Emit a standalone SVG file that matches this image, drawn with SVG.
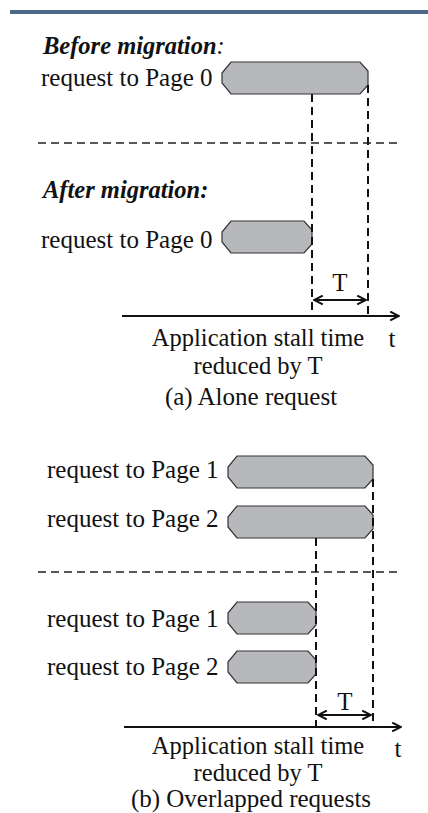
<svg xmlns="http://www.w3.org/2000/svg" width="428" height="813" viewBox="0 0 428 813">
<style>
text{font-family:"Liberation Serif","Times New Roman",serif;font-size:25px;fill:#111}
.h{font-weight:bold;font-style:italic;font-size:24.5px}
.s{font-size:24.5px}
.box{fill:#b7b8bc;stroke:#333;stroke-width:1.2}
.vd{stroke:#111;stroke-width:2;stroke-dasharray:8 5;fill:none}
.hd{stroke:#222;stroke-width:1.6;stroke-dasharray:8 5;fill:none}
.ax{stroke:#111;stroke-width:2;fill:none}
</style>
<defs>
<marker id="ah" viewBox="0 0 10 10" refX="9" refY="5" markerWidth="11" markerHeight="11" markerUnits="userSpaceOnUse" orient="auto-start-reverse">
<path d="M1,1 L9,5 L1,9" fill="none" stroke="#111" stroke-width="1.8"/>
</marker>
</defs>
<rect x="10" y="10" width="418" height="4" fill="#4d6987"/>

<g id="heading-before"><text class="h" x="43" y="54">Before migration<tspan font-weight="normal">:</tspan></text></g>
<g id="req-a-before">
<text x="41" y="86">request to Page 0</text>
<path class="box" d="M231,62 L360,62 L368,71 L368,85 L360,94 L231,94 L222,83 L222,73 Z"/>
</g>
<g id="heading-after"><text class="h" x="43" y="198">After migration:</text></g>
<g id="req-a-after">
<text x="41" y="248">request to Page 0</text>
<path class="box" d="M231,221 L304,221 L312,230 L312,244 L304,253 L231,253 L222,242 L222,232 Z"/>
</g>

<g id="req-b1">
<text x="47" y="478">request to Page 1</text>
<path class="box" d="M237,456 L365,456 L373,465 L373,479 L365,488 L237,488 L228,477 L228,467 Z"/>
</g>
<g id="req-b2">
<text x="47" y="527">request to Page 2</text>
<path class="box" d="M237,506 L365,506 L373,515 L373,529 L365,538 L237,538 L228,527 L228,517 Z"/>
</g>
<g id="req-b1-after">
<text x="47" y="627">request to Page 1</text>
<path class="box" d="M237,602 L308,602 L316,611 L316,625 L308,634 L237,634 L228,623 L228,613 Z"/>
</g>
<g id="req-b2-after">
<text x="47" y="675">request to Page 2</text>
<path class="box" d="M237,651 L308,651 L316,660 L316,674 L308,683 L237,683 L228,672 L228,662 Z"/>
</g>

<g id="connectors">
<line class="hd" x1="38" y1="143" x2="400" y2="143"/>
<line class="vd" x1="312" y1="94" x2="312" y2="316"/>
<line class="vd" x1="368" y1="85" x2="368" y2="316"/>
<line class="ax" x1="314" y1="300" x2="366" y2="300" marker-start="url(#ah)" marker-end="url(#ah)"/>
<line class="ax" x1="122" y1="316" x2="399" y2="316" marker-end="url(#ah)"/>

<line class="hd" x1="38" y1="572" x2="400" y2="572"/>
<line class="vd" x1="316" y1="538" x2="316" y2="727"/>
<line class="vd" x1="373" y1="479" x2="373" y2="727"/>
<line class="ax" x1="318" y1="715" x2="371" y2="715" marker-start="url(#ah)" marker-end="url(#ah)"/>
<line class="ax" x1="124" y1="727" x2="401" y2="727" marker-end="url(#ah)"/>
</g>

<g id="labels-a">
<text x="340" y="291" text-anchor="middle">T</text>
<text x="392" y="347" text-anchor="middle">t</text>
<text class="s" x="258" y="346" text-anchor="middle">Application stall time</text>
<text class="s" x="258" y="374" text-anchor="middle">reduced by T</text>
<text x="251" y="405" text-anchor="middle">(a) Alone request</text>
</g>
<g id="labels-b">
<text x="345" y="710" text-anchor="middle">T</text>
<text x="398" y="757" text-anchor="middle">t</text>
<text class="s" x="258" y="754" text-anchor="middle">Application stall time</text>
<text class="s" x="258" y="781" text-anchor="middle">reduced by T</text>
<text x="251" y="807" text-anchor="middle">(b) Overlapped requests</text>
</g>
</svg>
